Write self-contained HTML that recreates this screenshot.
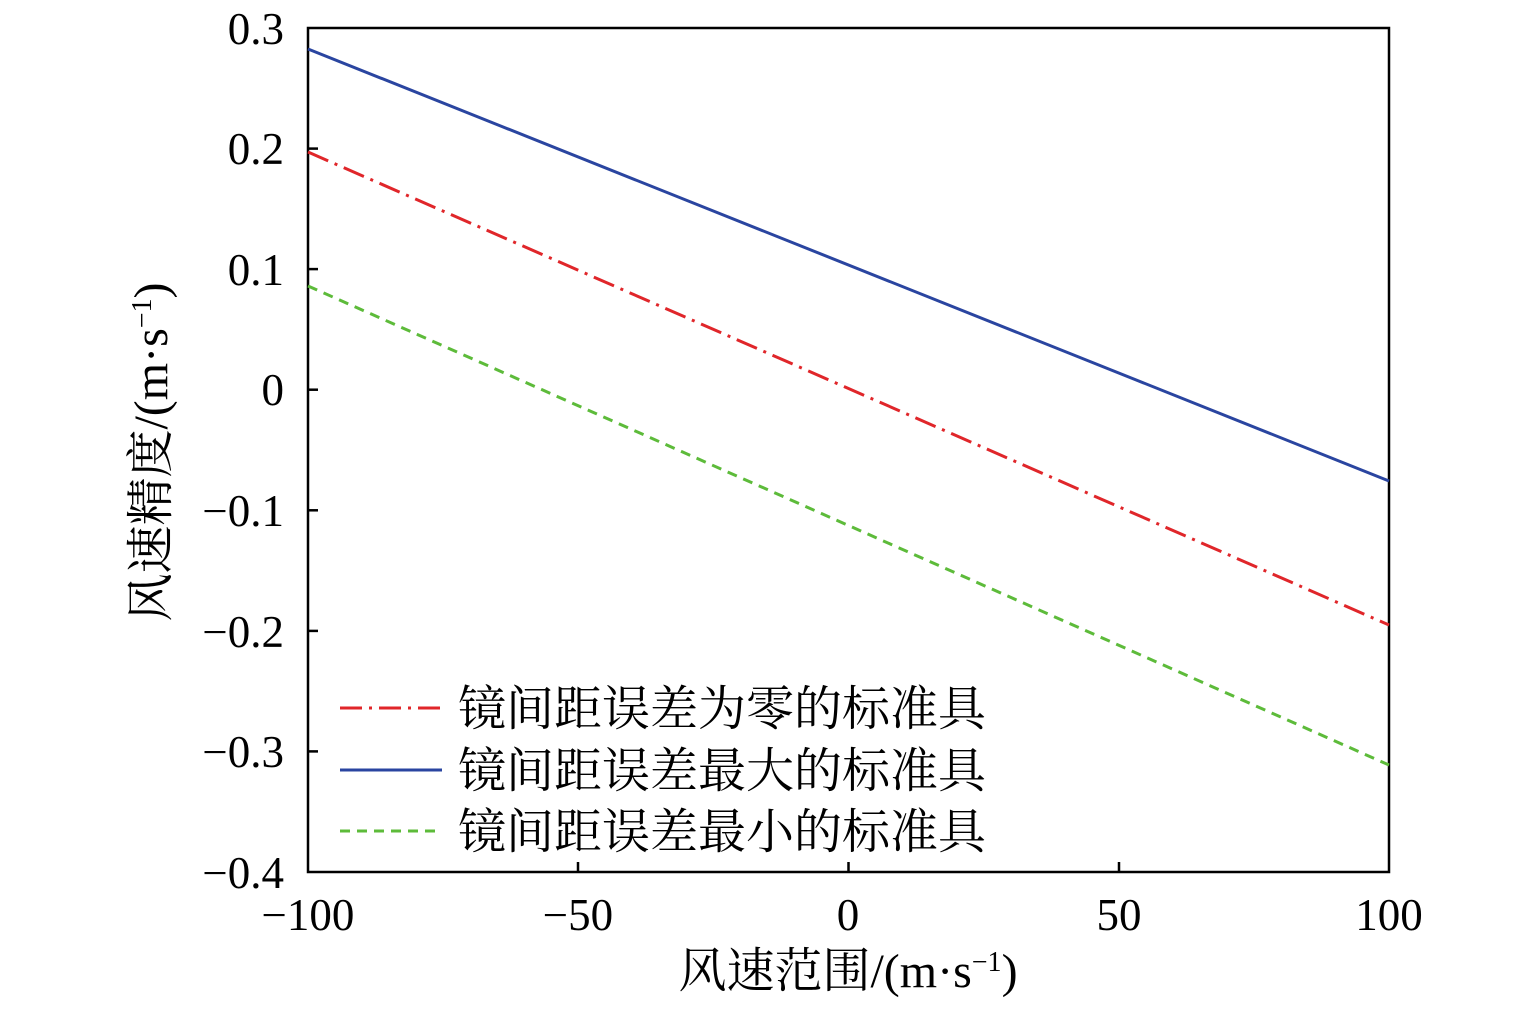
<!DOCTYPE html>
<html><head><meta charset="utf-8"><style>body{margin:0;background:#fff}</style></head><body>
<svg width="1535" height="1004" xmlns="http://www.w3.org/2000/svg" font-family="Liberation Serif, Noto Serif CJK SC, serif">
<rect width="1535" height="1004" fill="#fff"/>
<g stroke="#000" stroke-width="2.5" fill="none">
<rect x="308" y="28" width="1081" height="844"/>
<line x1="308" y1="148.6" x2="318" y2="148.6"/>
<line x1="308" y1="269.1" x2="318" y2="269.1"/>
<line x1="308" y1="389.7" x2="318" y2="389.7"/>
<line x1="308" y1="510.3" x2="318" y2="510.3"/>
<line x1="308" y1="630.9" x2="318" y2="630.9"/>
<line x1="308" y1="751.4" x2="318" y2="751.4"/>
<line x1="578" y1="872" x2="578" y2="862"/>
<line x1="848.5" y1="872" x2="848.5" y2="862"/>
<line x1="1119" y1="872" x2="1119" y2="862"/>
</g>
<g font-size="45" text-anchor="end" fill="#000">
<text x="284" y="44">0.3</text>
<text x="284" y="164">0.2</text>
<text x="284" y="285">0.1</text>
<text x="284" y="405">0</text>
<text x="284" y="526">−0.1</text>
<text x="284" y="647">−0.2</text>
<text x="284" y="767">−0.3</text>
<text x="284" y="888">−0.4</text>
</g>
<g font-size="45" text-anchor="middle" fill="#000">
<text x="308" y="930">−100</text>
<text x="578" y="930">−50</text>
<text x="848" y="930">0</text>
<text x="1119" y="930">50</text>
<text x="1389" y="930">100</text>
</g>
<g font-size="48" text-anchor="middle" fill="#000">
<text x="848" y="987">风速范围/(m·s<tspan dy="-16" font-size="28">−1</tspan><tspan dy="16">)</tspan></text>
<text transform="translate(167,452) rotate(-90)">风速精度/(m·s<tspan dy="-16" font-size="28">−1</tspan><tspan dy="16">)</tspan></text>
</g>
<line x1="308" y1="49" x2="1389" y2="481" stroke="#2a45a0" stroke-width="3"/>
<line x1="308" y1="152" x2="1389" y2="625" stroke="#e0262a" stroke-width="3" stroke-dasharray="22,7,3,7"/>
<line x1="308" y1="286" x2="1389" y2="765" stroke="#5dbb3a" stroke-width="3" stroke-dasharray="10,7"/>
<line x1="340" y1="708" x2="442" y2="708" stroke="#e0262a" stroke-width="3" stroke-dasharray="22,7,3,7"/>
<line x1="340" y1="770" x2="442" y2="770" stroke="#2a45a0" stroke-width="3"/>
<line x1="340" y1="831" x2="442" y2="831" stroke="#5dbb3a" stroke-width="3" stroke-dasharray="10,7"/>
<g font-size="48" fill="#000">
<text x="458" y="725">镜间距误差为零的标准具</text>
<text x="458" y="787">镜间距误差最大的标准具</text>
<text x="458" y="848">镜间距误差最小的标准具</text>
</g>
</svg>
</body></html>
